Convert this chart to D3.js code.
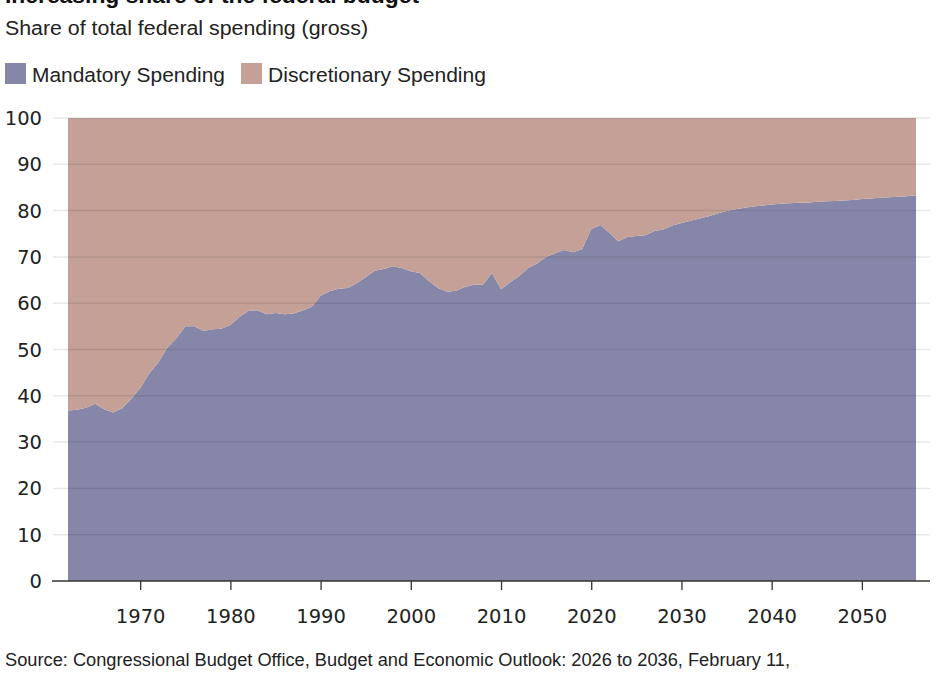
<!DOCTYPE html>
<html>
<head>
<meta charset="utf-8">
<script src="https://cdn.jsdelivr.net/npm/d3@7"></script>
<style>
  body { margin: 0; background: #fff; }
  svg { display: block; }
  text { font-family: "Liberation Sans", Arial, sans-serif; fill: #222; }
</style>
</head>
<body>
<svg id="chart" width="936" height="675"></svg>
<script>
"use strict";

// Years shown on the chart (CBO history + projection)
var years = d3.range(1962, 2057);

// Mandatory spending, % of total federal spending
var mandatory = [
  36.8, 37.0, 37.4, 38.3, 37.1, 36.4, 37.3, 39.3, 41.7, 44.8,
  47.2, 50.4, 52.4, 55.0, 55.0, 54.0, 54.4, 54.5, 55.3, 57.0,
  58.3, 58.5, 57.6, 57.9, 57.6, 57.8, 58.4, 59.2, 61.6, 62.6,
  63.1, 63.3, 64.3, 65.6, 67.0, 67.4, 68.0, 67.6, 66.9, 66.5,
  64.8, 63.3, 62.5, 62.7, 63.5, 64.0, 64.0, 66.5, 63.0, 64.5,
  65.8, 67.6, 68.6, 70.0, 70.8, 71.5, 71.0, 71.7, 76.0, 76.9,
  75.2, 73.4, 74.3, 74.5, 74.7, 75.6, 75.9, 76.8, 77.3, 77.8,
  78.3, 78.8, 79.4, 79.9, 80.3, 80.6, 80.9, 81.1, 81.3, 81.5,
  81.6, 81.7, 81.7, 81.9, 82.0, 82.1, 82.2, 82.3, 82.5, 82.6,
  82.8, 82.9, 83.0, 83.1, 83.3
];

// Discretionary spending, % of total federal spending
var discretionary = [
  63.2, 63.0, 62.6, 61.7, 62.9, 63.6, 62.7, 60.7, 58.3, 55.2,
  52.8, 49.6, 47.6, 45.0, 45.0, 46.0, 45.6, 45.5, 44.7, 43.0,
  41.7, 41.5, 42.4, 42.1, 42.4, 42.2, 41.6, 40.8, 38.4, 37.4,
  36.9, 36.7, 35.7, 34.4, 33.0, 32.6, 32.0, 32.4, 33.1, 33.5,
  35.2, 36.7, 37.5, 37.3, 36.5, 36.0, 36.0, 33.5, 37.0, 35.5,
  34.2, 32.4, 31.4, 30.0, 29.2, 28.5, 29.0, 28.3, 24.0, 23.1,
  24.8, 26.6, 25.7, 25.5, 25.3, 24.4, 24.1, 23.2, 22.7, 22.2,
  21.7, 21.2, 20.6, 20.1, 19.7, 19.4, 19.1, 18.9, 18.7, 18.5,
  18.4, 18.3, 18.3, 18.1, 18.0, 17.9, 17.8, 17.7, 17.5, 17.4,
  17.2, 17.1, 17.0, 16.9, 16.7
];

var seriesNames = ["Mandatory Spending", "Discretionary Spending"];
var seriesColors = ["#8687a8", "#c4a096"];
var xTicks = [1970, 1980, 1990, 2000, 2010, 2020, 2030, 2040, 2050];
var yTicks = [0, 10, 20, 30, 40, 50, 60, 70, 80, 90, 100];

var svg = d3.select("#chart");

var x = d3.scaleLinear().domain([1962, 2056]).range([68, 916]);
var y = d3.scaleLinear().domain([0, 100]).range([581, 118]);
var color = d3.scaleOrdinal().domain(seriesNames).range(seriesColors);

// title (cut off at the top of the frame, as in the original) + subtitle
svg.append("text")
  .attr("x", 5).attr("y", 3)
  .attr("font-size", 22).attr("font-weight", "bold")
  .attr("textLength", 414).attr("lengthAdjust", "spacingAndGlyphs")
  .style("fill", "#111")
  .text("Increasing share of the federal budget");

svg.append("text")
  .attr("x", 5).attr("y", 35)
  .attr("font-size", 19.5)
  .attr("textLength", 363).attr("lengthAdjust", "spacingAndGlyphs")
  .text("Share of total federal spending (gross)");

// legend
var legendX = [5, 241];
var legendW = [193, 218];
var legend = svg.append("g").attr("class", "legend");
legend.selectAll("rect")
  .data(seriesNames)
  .enter()
  .append("rect")
  .attr("x", function (d, i) { return legendX[i]; })
  .attr("y", 63)
  .attr("width", 21)
  .attr("height", 21)
  .attr("fill", function (d) { return color(d); });
legend.selectAll("text")
  .data(seriesNames)
  .enter()
  .append("text")
  .attr("x", function (d, i) { return legendX[i] + 27; })
  .attr("y", 82)
  .attr("font-size", 20.5)
  .attr("textLength", function (d, i) { return legendW[i]; })
  .attr("lengthAdjust", "spacingAndGlyphs")
  .text(function (d) { return d; });

// stacked areas
var table = years.map(function (yr, i) {
  return { year: yr, "Mandatory Spending": mandatory[i], "Discretionary Spending": discretionary[i] };
});
var stack = d3.stack().keys(seriesNames)(table);

var area = d3.area()
  .x(function (d) { return x(d.data.year); })
  .y0(function (d) { return y(d[0]); })
  .y1(function (d) { return y(d[1]); });

svg.append("g")
  .selectAll("path")
  .data(stack)
  .enter()
  .append("path")
  .attr("d", area)
  .attr("fill", function (d) { return color(d.key); });

// gridlines on top of the areas
svg.append("g")
  .selectAll("line")
  .data(yTicks.filter(function (d) { return d > 0; }))
  .enter()
  .append("line")
  .attr("x1", 53).attr("x2", 930)
  .attr("y1", function (d) { return y(d); })
  .attr("y2", function (d) { return y(d); })
  .attr("stroke", "#000")
  .attr("stroke-opacity", 0.09)
  .attr("stroke-width", 1.5);

// y labels
svg.append("g")
  .selectAll("text")
  .data(yTicks)
  .enter()
  .append("text")
  .attr("x", 42)
  .attr("y", function (d) { return y(d) + 7; })
  .attr("text-anchor", "end")
  .attr("font-size", 19.5)
  .style("font-family", "'DejaVu Sans', sans-serif")
  .text(function (d) { return d; });

// x axis
var xAxis = d3.axisBottom(x)
  .tickValues(xTicks)
  .tickFormat(d3.format("d"))
  .tickSize(9)
  .tickPadding(19)
  .tickSizeOuter(0);

var gx = svg.append("g")
  .attr("transform", "translate(0," + y(0) + ")")
  .call(xAxis);
gx.select(".domain").remove();
gx.selectAll("line").attr("stroke", "#333").attr("stroke-width", 1.3);
gx.selectAll("text")
  .attr("font-size", 19.5)
  .style("font-family", "'DejaVu Sans', sans-serif")
  .style("fill", "#222");

svg.append("line")
  .attr("x1", 52).attr("x2", 930)
  .attr("y1", y(0)).attr("y2", y(0))
  .attr("stroke", "#333")
  .attr("stroke-width", 1.5);

// source note (second line runs off the frame, as in the original)
svg.append("text")
  .attr("x", 5).attr("y", 666)
  .attr("font-size", 17.5)
  .attr("textLength", 785).attr("lengthAdjust", "spacingAndGlyphs")
  .text("Source: Congressional Budget Office, Budget and Economic Outlook: 2026 to 2036, February 11,");
svg.append("text")
  .attr("x", 5).attr("y", 688)
  .attr("font-size", 17.5)
  .text("2026");
</script>
</body>
</html>
